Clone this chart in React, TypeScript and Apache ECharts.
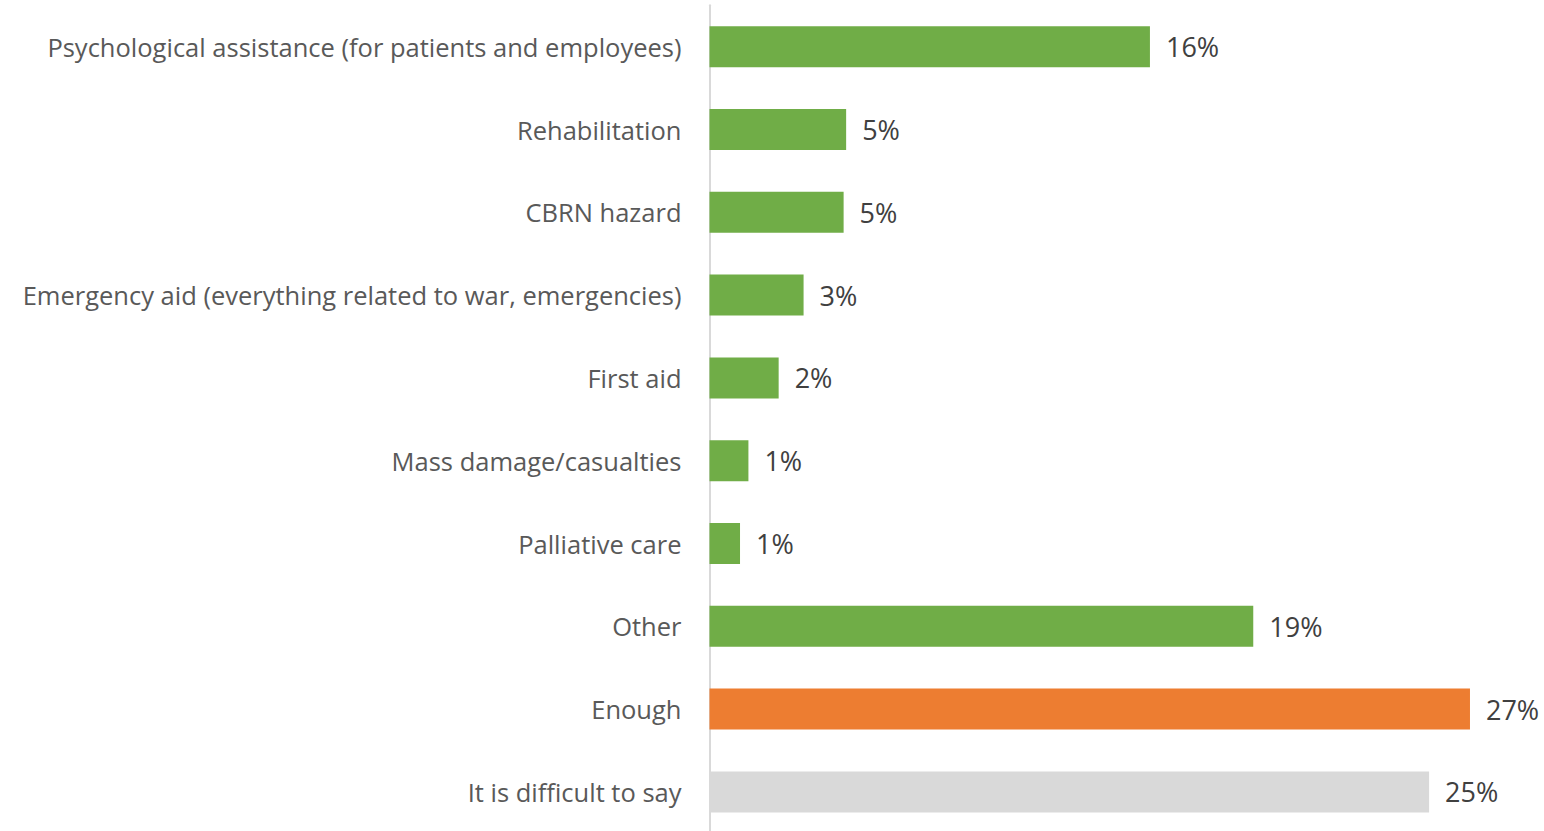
import React, { useEffect, useRef } from "react";
import * as echarts from "echarts";

const categories = [
  "Psychological assistance (for patients and employees)",
  "Rehabilitation",
  "CBRN hazard",
  "Emergency aid (everything related to war, emergencies)",
  "First aid",
  "Mass damage/casualties",
  "Palliative care",
  "Other",
  "Enough",
  "It is difficult to say",
];
const values = [15.73, 4.88, 4.79, 3.36, 2.47, 1.39, 1.09, 19.42, 27.16, 25.7];
const valueLabels = ["16%", "5%", "5%", "3%", "2%", "1%", "1%", "19%", "27%", "25%"];
const barColors = [
  "#70AD47", "#70AD47", "#70AD47", "#70AD47", "#70AD47",
  "#70AD47", "#70AD47", "#70AD47", "#ED7D31", "#D9D9D9",
];

export default function App() {
  const ref = useRef<HTMLDivElement>(null);
  useEffect(() => {
    document.body.style.margin = "0";
    document.body.style.overflow = "hidden";
    const chart = echarts.init(ref.current!, null, { renderer: "svg" });
    chart.setOption({
      animation: false,
      backgroundColor: "#ffffff",
      grid: {
        left: 709.5,
        top: 5.3,
        width: 812,
        height: 828,
        containLabel: false,
        outerBoundsMode: "none",
      },
      xAxis: {
        type: "value",
        min: 0,
        max: 29,
        show: false,
      },
      yAxis: {
        type: "category",
        inverse: true,
        data: categories,
        axisLine: { show: true, lineStyle: { color: "#D9D9D9", width: 2 } },
        axisTick: { show: false },
        axisLabel: {
          margin: 28,
          color: "#595959",
          fontSize: 25.5,
          fontFamily: "Open Sans",
        },
      },
      series: [
        {
          type: "bar",
          barWidth: 41,
          data: values.map((v, i) => ({ value: v, itemStyle: { color: barColors[i] } })),
          label: {
            show: true,
            position: "right",
            distance: 16,
            color: "#404040",
            fontSize: 27,
            fontFamily: "Open Sans",
            formatter: (p: any) => valueLabels[p.dataIndex],
          },
        },
      ],
    });
    return () => chart.dispose();
  }, []);
  return (
    <div
      ref={ref}
      style={{ position: "fixed", left: 0, top: 0, width: 1544, height: 834 }}
    />
  );
}
